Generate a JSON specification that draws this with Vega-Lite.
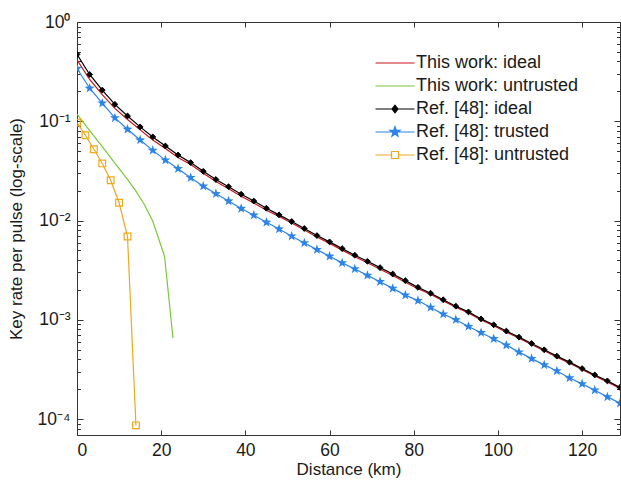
{
  "$schema": "https://vega.github.io/schema/vega-lite/v6.json",
  "width": 543,
  "height": 413,
  "autosize": {"type": "none"},
  "padding": {"left": 77, "top": 22, "right": 1, "bottom": 46},
  "background": "white",
  "config": {
    "font": "Liberation Sans",
    "view": {"stroke": "#333333", "strokeWidth": 1},
    "axis": {
      "domain": false,
      "grid": false,
      "tickColor": "#333333",
      "tickWidth": 1,
      "labelColor": "#1a1a1a",
      "titleColor": "#1a1a1a",
      "labelFont": "Liberation Sans",
      "titleFont": "Liberation Sans",
      "labelFontSize": 17.5,
      "titleFontSize": 17,
      "titleFontWeight": "normal"
    }
  },
  "data": {
    "values": [
      {"s": "This work: ideal", "x": 0, "y": 0.415},
      {"s": "This work: ideal", "x": 3, "y": 0.2635},
      {"s": "This work: ideal", "x": 6, "y": 0.1856},
      {"s": "This work: ideal", "x": 9, "y": 0.1348},
      {"s": "This work: ideal", "x": 12, "y": 0.1042},
      {"s": "This work: ideal", "x": 15, "y": 0.0818},
      {"s": "This work: ideal", "x": 18, "y": 0.0648},
      {"s": "This work: ideal", "x": 21, "y": 0.0531},
      {"s": "This work: ideal", "x": 24, "y": 0.0431},
      {"s": "This work: ideal", "x": 27, "y": 0.0366},
      {"s": "This work: ideal", "x": 30, "y": 0.0299},
      {"s": "This work: ideal", "x": 33, "y": 0.0247},
      {"s": "This work: ideal", "x": 36, "y": 0.0209},
      {"s": "This work: ideal", "x": 39, "y": 0.01756},
      {"s": "This work: ideal", "x": 42, "y": 0.01499},
      {"s": "This work: ideal", "x": 45, "y": 0.0127},
      {"s": "This work: ideal", "x": 48, "y": 0.01101},
      {"s": "This work: ideal", "x": 51, "y": 0.00943},
      {"s": "This work: ideal", "x": 54, "y": 0.00801},
      {"s": "This work: ideal", "x": 57, "y": 0.00681},
      {"s": "This work: ideal", "x": 60, "y": 0.00588},
      {"s": "This work: ideal", "x": 63, "y": 0.00503},
      {"s": "This work: ideal", "x": 66, "y": 0.00432},
      {"s": "This work: ideal", "x": 69, "y": 0.00375},
      {"s": "This work: ideal", "x": 72, "y": 0.00323},
      {"s": "This work: ideal", "x": 75, "y": 0.00279},
      {"s": "This work: ideal", "x": 78, "y": 0.00239},
      {"s": "This work: ideal", "x": 81, "y": 0.00205},
      {"s": "This work: ideal", "x": 84, "y": 0.00181},
      {"s": "This work: ideal", "x": 87, "y": 0.00155},
      {"s": "This work: ideal", "x": 90, "y": 0.00134},
      {"s": "This work: ideal", "x": 93, "y": 0.00117},
      {"s": "This work: ideal", "x": 96, "y": 0.000997},
      {"s": "This work: ideal", "x": 99, "y": 0.000869},
      {"s": "This work: ideal", "x": 102, "y": 0.000751},
      {"s": "This work: ideal", "x": 105, "y": 0.000653},
      {"s": "This work: ideal", "x": 108, "y": 0.000564},
      {"s": "This work: ideal", "x": 111, "y": 0.000487},
      {"s": "This work: ideal", "x": 114, "y": 0.00042},
      {"s": "This work: ideal", "x": 117, "y": 0.000365},
      {"s": "This work: ideal", "x": 120, "y": 0.000315},
      {"s": "This work: ideal", "x": 123, "y": 0.000272},
      {"s": "This work: ideal", "x": 126, "y": 0.000236},
      {"s": "This work: ideal", "x": 129, "y": 0.000203},

      {"s": "This work: untrusted", "x": 0, "y": 0.118},
      {"s": "This work: untrusted", "x": 2, "y": 0.0912},
      {"s": "This work: untrusted", "x": 4, "y": 0.0711},
      {"s": "This work: untrusted", "x": 6, "y": 0.0555},
      {"s": "This work: untrusted", "x": 8, "y": 0.043},
      {"s": "This work: untrusted", "x": 10, "y": 0.0333},
      {"s": "This work: untrusted", "x": 12, "y": 0.0259},
      {"s": "This work: untrusted", "x": 14, "y": 0.0198},
      {"s": "This work: untrusted", "x": 16, "y": 0.0145},
      {"s": "This work: untrusted", "x": 18, "y": 0.00984},
      {"s": "This work: untrusted", "x": 20.8, "y": 0.00436},
      {"s": "This work: untrusted", "x": 22.8, "y": 0.000653},

      {"s": "Ref. [48]: ideal", "x": 0, "y": 0.472},
      {"s": "Ref. [48]: ideal", "x": 3, "y": 0.296},
      {"s": "Ref. [48]: ideal", "x": 6, "y": 0.206},
      {"s": "Ref. [48]: ideal", "x": 9, "y": 0.148},
      {"s": "Ref. [48]: ideal", "x": 12, "y": 0.113},
      {"s": "Ref. [48]: ideal", "x": 15, "y": 0.0877},
      {"s": "Ref. [48]: ideal", "x": 18, "y": 0.0695},
      {"s": "Ref. [48]: ideal", "x": 21, "y": 0.0563},
      {"s": "Ref. [48]: ideal", "x": 24, "y": 0.0457},
      {"s": "Ref. [48]: ideal", "x": 27, "y": 0.0383},
      {"s": "Ref. [48]: ideal", "x": 30, "y": 0.0313},
      {"s": "Ref. [48]: ideal", "x": 33, "y": 0.0259},
      {"s": "Ref. [48]: ideal", "x": 36, "y": 0.0219},
      {"s": "Ref. [48]: ideal", "x": 39, "y": 0.0184},
      {"s": "Ref. [48]: ideal", "x": 42, "y": 0.0157},
      {"s": "Ref. [48]: ideal", "x": 45, "y": 0.0133},
      {"s": "Ref. [48]: ideal", "x": 48, "y": 0.0114},
      {"s": "Ref. [48]: ideal", "x": 51, "y": 0.00977},
      {"s": "Ref. [48]: ideal", "x": 54, "y": 0.0083},
      {"s": "Ref. [48]: ideal", "x": 57, "y": 0.00705},
      {"s": "Ref. [48]: ideal", "x": 60, "y": 0.00609},
      {"s": "Ref. [48]: ideal", "x": 63, "y": 0.00521},
      {"s": "Ref. [48]: ideal", "x": 66, "y": 0.00447},
      {"s": "Ref. [48]: ideal", "x": 69, "y": 0.00388},
      {"s": "Ref. [48]: ideal", "x": 72, "y": 0.00335},
      {"s": "Ref. [48]: ideal", "x": 75, "y": 0.00289},
      {"s": "Ref. [48]: ideal", "x": 78, "y": 0.00248},
      {"s": "Ref. [48]: ideal", "x": 81, "y": 0.00212},
      {"s": "Ref. [48]: ideal", "x": 84, "y": 0.00185},
      {"s": "Ref. [48]: ideal", "x": 87, "y": 0.00159},
      {"s": "Ref. [48]: ideal", "x": 90, "y": 0.00137},
      {"s": "Ref. [48]: ideal", "x": 93, "y": 0.0012},
      {"s": "Ref. [48]: ideal", "x": 96, "y": 0.00102},
      {"s": "Ref. [48]: ideal", "x": 99, "y": 0.000889},
      {"s": "Ref. [48]: ideal", "x": 102, "y": 0.000769},
      {"s": "Ref. [48]: ideal", "x": 105, "y": 0.000668},
      {"s": "Ref. [48]: ideal", "x": 108, "y": 0.000577},
      {"s": "Ref. [48]: ideal", "x": 111, "y": 0.000498},
      {"s": "Ref. [48]: ideal", "x": 114, "y": 0.00043},
      {"s": "Ref. [48]: ideal", "x": 117, "y": 0.000374},
      {"s": "Ref. [48]: ideal", "x": 120, "y": 0.000322},
      {"s": "Ref. [48]: ideal", "x": 123, "y": 0.000278},
      {"s": "Ref. [48]: ideal", "x": 126, "y": 0.000242},
      {"s": "Ref. [48]: ideal", "x": 129, "y": 0.000208},

      {"s": "Ref. [48]: trusted", "x": 0, "y": 0.34},
      {"s": "Ref. [48]: trusted", "x": 3, "y": 0.215},
      {"s": "Ref. [48]: trusted", "x": 6, "y": 0.152},
      {"s": "Ref. [48]: trusted", "x": 9, "y": 0.108},
      {"s": "Ref. [48]: trusted", "x": 12, "y": 0.083},
      {"s": "Ref. [48]: trusted", "x": 15, "y": 0.0647},
      {"s": "Ref. [48]: trusted", "x": 18, "y": 0.0509},
      {"s": "Ref. [48]: trusted", "x": 21, "y": 0.0406},
      {"s": "Ref. [48]: trusted", "x": 24, "y": 0.0333},
      {"s": "Ref. [48]: trusted", "x": 27, "y": 0.027},
      {"s": "Ref. [48]: trusted", "x": 30, "y": 0.0222},
      {"s": "Ref. [48]: trusted", "x": 33, "y": 0.0186},
      {"s": "Ref. [48]: trusted", "x": 36, "y": 0.0157},
      {"s": "Ref. [48]: trusted", "x": 39, "y": 0.0132},
      {"s": "Ref. [48]: trusted", "x": 42, "y": 0.0113},
      {"s": "Ref. [48]: trusted", "x": 45, "y": 0.00959},
      {"s": "Ref. [48]: trusted", "x": 48, "y": 0.0082},
      {"s": "Ref. [48]: trusted", "x": 51, "y": 0.00695},
      {"s": "Ref. [48]: trusted", "x": 54, "y": 0.00594},
      {"s": "Ref. [48]: trusted", "x": 57, "y": 0.00509},
      {"s": "Ref. [48]: trusted", "x": 60, "y": 0.00436},
      {"s": "Ref. [48]: trusted", "x": 63, "y": 0.00374},
      {"s": "Ref. [48]: trusted", "x": 66, "y": 0.00325},
      {"s": "Ref. [48]: trusted", "x": 69, "y": 0.0028},
      {"s": "Ref. [48]: trusted", "x": 72, "y": 0.00242},
      {"s": "Ref. [48]: trusted", "x": 75, "y": 0.00207},
      {"s": "Ref. [48]: trusted", "x": 78, "y": 0.00177},
      {"s": "Ref. [48]: trusted", "x": 81, "y": 0.00156},
      {"s": "Ref. [48]: trusted", "x": 84, "y": 0.00133},
      {"s": "Ref. [48]: trusted", "x": 87, "y": 0.00114},
      {"s": "Ref. [48]: trusted", "x": 90, "y": 0.001},
      {"s": "Ref. [48]: trusted", "x": 93, "y": 0.000855},
      {"s": "Ref. [48]: trusted", "x": 96, "y": 0.00074},
      {"s": "Ref. [48]: trusted", "x": 99, "y": 0.000643},
      {"s": "Ref. [48]: trusted", "x": 102, "y": 0.000555},
      {"s": "Ref. [48]: trusted", "x": 105, "y": 0.000472},
      {"s": "Ref. [48]: trusted", "x": 108, "y": 0.000406},
      {"s": "Ref. [48]: trusted", "x": 111, "y": 0.000351},
      {"s": "Ref. [48]: trusted", "x": 114, "y": 0.000305},
      {"s": "Ref. [48]: trusted", "x": 117, "y": 0.000259},
      {"s": "Ref. [48]: trusted", "x": 120, "y": 0.000226},
      {"s": "Ref. [48]: trusted", "x": 123, "y": 0.000195},
      {"s": "Ref. [48]: trusted", "x": 126, "y": 0.000167},
      {"s": "Ref. [48]: trusted", "x": 129, "y": 0.000144},

      {"s": "Ref. [48]: untrusted", "x": 0, "y": 0.097},
      {"s": "Ref. [48]: untrusted", "x": 2, "y": 0.0722},
      {"s": "Ref. [48]: untrusted", "x": 4, "y": 0.0522},
      {"s": "Ref. [48]: untrusted", "x": 6, "y": 0.0376},
      {"s": "Ref. [48]: untrusted", "x": 8, "y": 0.0254},
      {"s": "Ref. [48]: untrusted", "x": 10, "y": 0.0151},
      {"s": "Ref. [48]: untrusted", "x": 12, "y": 0.00689},
      {"s": "Ref. [48]: untrusted", "x": 14, "y": 0.0000863}
    ]
  },
  "layer": [
    {
      "mark": {"type": "line", "strokeWidth": 1.2, "clip": true},
      "encoding": {
        "x": {
          "field": "x", "type": "quantitative",
          "scale": {"domain": [0, 129], "nice": false, "zero": false},
          "axis": {
            "orient": "bottom",
            "values": [0, 20, 40, 60, 80, 100, 120],
            "tickSize": -5,
            "labelPadding": 11,
            "title": "Distance (km)",
            "titlePadding": 3
          }
        },
        "y": {
          "field": "y", "type": "quantitative",
          "scale": {"type": "log", "domain": [0.000069, 1], "nice": false},
          "axis": {
            "orient": "left",
            "values": [0.00008, 0.00009, 0.0001, 0.0002, 0.0003, 0.0004, 0.0005, 0.0006, 0.0007, 0.0008, 0.0009, 0.001, 0.002, 0.003, 0.004, 0.005, 0.006, 0.007, 0.008, 0.009, 0.01, 0.02, 0.03, 0.04, 0.05, 0.06, 0.07, 0.08, 0.09, 0.1, 0.2, 0.3, 0.4, 0.5, 0.6, 0.7, 0.8, 0.9, 1],
            "tickSize": {"condition": {"test": "abs(log(datum.value)/LN10 - round(log(datum.value)/LN10)) < 0.001", "value": -6}, "value": -3.5},
            "labelPadding": 13,
            "labelExpr": "abs(log(datum.value)/LN10 - round(log(datum.value)/LN10)) < 0.001 ? (datum.value > 0.5 ? '10⁰' : datum.value > 0.05 ? '10⁻¹' : datum.value > 0.005 ? '10⁻²' : datum.value > 0.0005 ? '10⁻³' : '10⁻⁴') : ''",
            "title": "Key rate per pulse (log-scale)",
            "titlePadding": 12
          }
        },
        "color": {
          "field": "s", "type": "nominal",
          "scale": {
            "domain": ["This work: ideal", "This work: untrusted", "Ref. [48]: ideal", "Ref. [48]: trusted", "Ref. [48]: untrusted"],
            "range": ["#C8161D", "#7BC83A", "#000000", "#2C84E6", "#F0A81C"]
          },
          "legend": {
            "orient": "none",
            "legendX": 309,
            "legendY": 32,
            "title": null,
            "padding": 0,
            "symbolSize": 100,
            "symbolStrokeWidth": 1.2,
            "labelOffset": 12,
            "rowPadding": 5,
            "labelFontSize": 18,
            "labelFont": "Liberation Sans",
            "labelColor": "#1a1a1a",
            "labelLimit": 0,
            "encode": {
              "symbols": {
                "update": {
                  "shape": {"signal": "datum.value === 'Ref. [48]: ideal' ? 'M-3.9,0H3.9M0,-0.75L0.6,0L0,0.75L-0.6,0Z' : datum.value === 'Ref. [48]: trusted' ? 'M-3.9,0H3.9M0,-1.05L0.247,-0.34L1.0,-0.325L0.4,0.13L0.617,0.85L0,0.42L-0.617,0.85L-0.4,0.13L-1.0,-0.325L-0.247,-0.34Z' : datum.value === 'Ref. [48]: untrusted' ? 'M-3.9,0H-0.7M0.7,0H3.9M-0.7,-0.7H0.7V0.7H-0.7Z' : 'M-3.9,0H3.9'"},
                  "fill": {"signal": "datum.value === 'Ref. [48]: ideal' ? '#000000' : datum.value === 'Ref. [48]: trusted' ? '#2C84E6' : 'transparent'"},
                  "strokeWidth": {"value": 1.2},
                  "opacity": {"value": 1}
                }
              }
            }
          }
        }
      }
    },
    {
      "transform": [{"filter": "datum.s === 'Ref. [48]: ideal'"}],
      "mark": {"type": "point", "shape": "diamond", "filled": true, "color": "#000000", "size": 34, "stroke": "#000000", "strokeWidth": 1, "opacity": 1, "clip": true},
      "encoding": {
        "x": {
          "field": "x", "type": "quantitative",
          "axis": {"orient": "top", "values": [0, 20, 40, 60, 80, 100, 120], "tickSize": -5, "labels": false, "title": null}
        },
        "y": {
          "field": "y", "type": "quantitative",
          "axis": {
            "orient": "right",
            "values": [0.00008, 0.00009, 0.0001, 0.0002, 0.0003, 0.0004, 0.0005, 0.0006, 0.0007, 0.0008, 0.0009, 0.001, 0.002, 0.003, 0.004, 0.005, 0.006, 0.007, 0.008, 0.009, 0.01, 0.02, 0.03, 0.04, 0.05, 0.06, 0.07, 0.08, 0.09, 0.1, 0.2, 0.3, 0.4, 0.5, 0.6, 0.7, 0.8, 0.9, 1],
            "tickSize": {"condition": {"test": "abs(log(datum.value)/LN10 - round(log(datum.value)/LN10)) < 0.001", "value": -6}, "value": -3.5},
            "labels": false,
            "title": null
          }
        }
      }
    },
    {
      "transform": [{"filter": "datum.s === 'Ref. [48]: trusted'"}],
      "mark": {"type": "point", "shape": "M0,-1L0.235,-0.324L0.951,-0.309L0.38,0.124L0.588,0.809L0,0.4L-0.588,0.809L-0.38,0.124L-0.951,-0.309L-0.235,-0.324Z", "filled": true, "color": "#2C84E6", "size": 110, "opacity": 1, "clip": true},
      "encoding": {
        "x": {"field": "x", "type": "quantitative", "axis": null},
        "y": {"field": "y", "type": "quantitative", "axis": null}
      }
    },
    {
      "transform": [{"filter": "datum.s === 'Ref. [48]: untrusted'"}],
      "mark": {"type": "point", "shape": "square", "filled": false, "color": "#F0A81C", "size": 45, "strokeWidth": 1.2, "opacity": 1, "clip": true},
      "encoding": {
        "x": {"field": "x", "type": "quantitative", "axis": null},
        "y": {"field": "y", "type": "quantitative", "axis": null}
      }
    }
  ]
}
